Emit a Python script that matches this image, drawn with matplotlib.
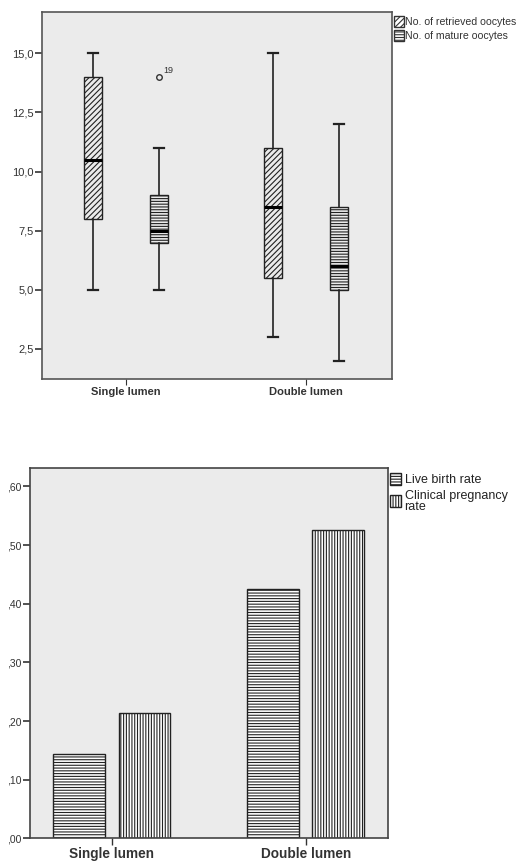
import matplotlib
matplotlib.use("Agg")
import matplotlib.pyplot as plt
from matplotlib.patches import Patch
from matplotlib.ticker import FuncFormatter

plt.rcParams['font.family'] = ['Liberation Sans', 'DejaVu Sans']
plt.rcParams['hatch.linewidth'] = 0.8

# ---------------- data ----------------
categories = ["Single lumen", "Double lumen"]
box_series = ["No. of retrieved oocytes", "No. of mature oocytes"]
# [whislo, q1, med, q3, whishi] per category
retrieved = [[5.0, 8.0, 10.5, 14.0, 15.0], [3.0, 5.5, 8.5, 11.0, 15.0]]
mature = [[5.0, 7.0, 7.5, 9.0, 11.0], [2.0, 5.0, 6.0, 8.5, 12.0]]
retrieved_outliers = [[], []]
mature_outliers = [[14.0], []]
mature_outlier_labels = [["19"], []]
box_yticks = [2.5, 5.0, 7.5, 10.0, 12.5, 15.0]

bar_series = ["Live birth rate", "Clinical pregnancy\nrate"]
live_birth = [0.143, 0.425]
clinical_preg = [0.214, 0.525]
bar_yticks = [0.0, 0.1, 0.2, 0.3, 0.4, 0.5, 0.6]

W, H = 516, 863
fig = plt.figure(figsize=(W / 100, H / 100), dpi=100)
bg = "#ebebeb"

# ---------------- top: boxplot ----------------
ax1 = fig.add_axes([42 / W, (H - 379) / H, 350 / W, 367 / H])
ax1.set_facecolor(bg)
off = 0.183
bw = 0.098
hatches_box = ["//////", "------"]
groups = [(retrieved, retrieved_outliers, [[], []]),
          (mature, mature_outliers, mature_outlier_labels)]
for si, (series, outs, labels) in enumerate(groups):
    stats = []
    positions = []
    for ci, v in enumerate(series):
        stats.append(dict(whislo=v[0], q1=v[1], med=v[2], q3=v[3], whishi=v[4],
                          fliers=outs[ci]))
        positions.append(ci + (-off if si == 0 else off))
    ax1.bxp(stats, positions=positions, widths=bw, patch_artist=True,
            showfliers=True, manage_ticks=False,
            boxprops=dict(facecolor=bg, edgecolor="#222222", linewidth=1.0, hatch=hatches_box[si]),
            medianprops=dict(color="black", linewidth=2.2),
            whiskerprops=dict(color="#222222", linewidth=1.2),
            capprops=dict(color="#222222", linewidth=1.6),
            capwidths=bw * 0.55,
            flierprops=dict(marker="o", markerfacecolor="none", markeredgecolor="#333333",
                            markersize=4, markeredgewidth=1.0))
    for ci, labs in enumerate(labels):
        for val, lab in zip(outs[ci], labs):
            ax1.annotate(lab, (positions[ci], val), xytext=(3, 3), textcoords="offset points",
                         fontsize=6.5, color="#333333")

ax1.set_xlim(-0.467, 1.478)
ax1.set_ylim(1.23, 16.75)
ax1.set_yticks(box_yticks)
ax1.yaxis.set_major_formatter(FuncFormatter(lambda v, p: f"{v:.1f}".replace(".", ",")))
ax1.set_xticks([0, 1])
ax1.set_xticklabels(categories, fontsize=8, fontweight="bold", color="#222222")
ax1.tick_params(axis="y", labelsize=8, length=5, width=1.2, colors="#333333", pad=1)
ax1.tick_params(axis="x", length=4, width=0.8, colors="#333333", pad=2)
for s in ax1.spines.values():
    s.set_color("#555555")
    s.set_linewidth(1.2)
leg1 = ax1.legend(handles=[Patch(facecolor="white", edgecolor="#333333", hatch=hatches_box[i], label=box_series[i])
                           for i in range(2)],
                  loc="upper left", bbox_to_anchor=(1.0, 0.995), frameon=False,
                  fontsize=7.6, handlelength=0.9, handleheight=1.2, handletextpad=0.15,
                  labelspacing=0.3, borderaxespad=0.0, borderpad=0.2)
for t in leg1.get_texts():
    t.set_color("#333333")

# ---------------- bottom: bar chart ----------------
ax2 = fig.add_axes([30 / W, (H - 838.3) / H, 357.7 / W, 370 / H])
ax2.set_facecolor(bg)
boff = 0.168
bwidth = 0.268
xs = list(range(len(categories)))
ax2.bar([x - boff for x in xs], live_birth, width=bwidth, facecolor="white", edgecolor="#222222",
        hatch="------", linewidth=1.0, label=bar_series[0])
ax2.bar([x + boff for x in xs], clinical_preg, width=bwidth, facecolor="white", edgecolor="#222222",
        hatch="||||||", linewidth=1.0, label=bar_series[1])
ax2.set_xlim(-0.423, 1.423)
ax2.set_ylim(0, 0.631)
ax2.set_yticks(bar_yticks)
ax2.yaxis.set_major_formatter(FuncFormatter(lambda v, p: f"{v:.2f}"[1:].replace(".", ",")))
ax2.set_xticks(xs)
ax2.set_xticklabels(categories, fontsize=9.8, fontweight="bold", color="#111111")
ax2.tick_params(axis="y", labelsize=7.5, length=5, width=1.2, colors="#333333", pad=1)
ax2.tick_params(axis="x", length=5, width=1.0, colors="#333333", pad=1)
for s in ax2.spines.values():
    s.set_color("#444444")
    s.set_linewidth(1.2)
leg2 = ax2.legend(loc="upper left", bbox_to_anchor=(1.0, 0.995), frameon=False,
                  fontsize=9, handlelength=0.9, handleheight=1.1, handletextpad=0.25,
                  labelspacing=0.3, borderaxespad=0.0, borderpad=0.2)
for t in leg2.get_texts():
    t.set_color("#222222")
    t.set_linespacing(0.9)

fig.savefig("out.png", dpi=100, facecolor="white")
